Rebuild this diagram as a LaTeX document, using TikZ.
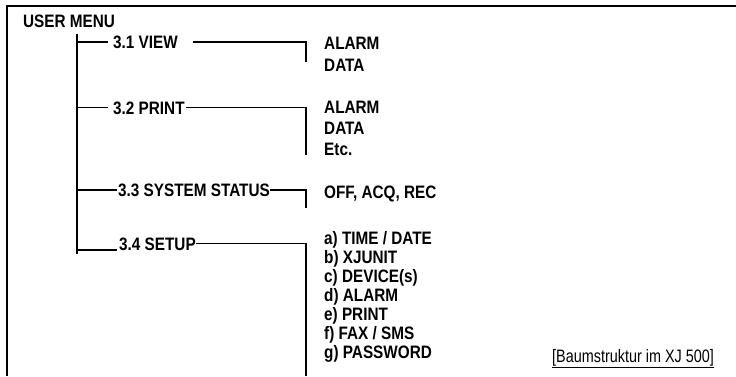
\documentclass[tikz,border=0pt]{standalone}
\usepackage{fontspec}
\setmainfont{Liberation Sans}[FakeStretch=0.85]
\newfontfamily\captionfont{Liberation Sans}[FakeStretch=0.8]
\begin{document}
\begin{tikzpicture}[x=1pt,y=-1pt,
    branch/.style={line width=1.6pt},
    entry/.style={font=\fontsize{18}{20}\selectfont\bfseries, inner sep=0pt, text height=13pt, text depth=0pt, anchor=west},
    item/.style={font=\fontsize{18}{20}\selectfont\bfseries, inner sep=0pt, anchor=base west}]
    \useasboundingbox (0,0) rectangle (736,376);
    % Rahmen
    \draw[line width=2.2pt] (736,6) -- (7,6) -- (7,376);
    % Hauptmenue
    \node[item] (menu) at (23,27.5) {USER MENU};
    \coordinate (top) at (77,34);
    \coordinate (bottom) at (77,254);
    \draw[line width=2pt] (top) -- (bottom);
    % Untermenues
    \node[entry] (view) at (113,42) {3.1 VIEW};
    \node[entry] (print) at (113,107.5) {3.2 PRINT};
    \node[entry] (status) at (118,190) {3.3 SYSTEM STATUS};
    \node[entry] (setup) at (119,243.5) {3.4 SETUP};
    \draw[branch] (top |- view) -- ([xshift=-5pt]view.west);
    \draw[branch] (top |- print) -- ([xshift=-5pt]print.west);
    \draw[branch] (top |- status) -- ([xshift=-1pt]status.west);
    \coordinate (s4) at (77,250);
    \draw[branch] (s4) -- ([xshift=-2pt]s4 -| setup.west);
    % Klammern rechts
    \coordinate (viewend) at (306,62);
    \coordinate (printend) at (306,155);
    \coordinate (statusend) at (306,208);
    \coordinate (setupend) at (306,376);
    \draw[branch] ([xshift=15pt]view.east) -- (viewend |- view) -- (viewend);
    \draw[branch] ([xshift=1pt]print.east) -- (printend |- print) -- (printend);
    \draw[branch] (status.east) -- (statusend |- status) -- (statusend);
    \draw[branch] (setup.east) -- (setupend |- setup) -- (setupend);
    % Eintraege
    \foreach \txt [count=\i] in {ALARM, DATA}
        \node[item] (view-\i) at (324,27+22*\i) {\txt};
    \foreach \txt [count=\i] in {ALARM, DATA, Etc.}
        \node[item] (print-\i) at (324,92+21*\i) {\txt};
    \node[item] (status-1) at (324,198) {OFF, ACQ, REC};
    \foreach \txt [count=\i] in {a) TIME / DATE, b) XJUNIT, c) DEVICE(s), d) ALARM, e) PRINT, f) FAX / SMS, g) PASSWORD}
        \node[item] (setup-\i) at (324,225+19*\i) {\txt};
    % Bildunterschrift
    \node[anchor=base west, inner sep=0pt, font=\fontsize{18}{20}\selectfont\captionfont] (caption) at (552,362) {\underline{[Baumstruktur im XJ 500]}};
\end{tikzpicture}
\end{document}
